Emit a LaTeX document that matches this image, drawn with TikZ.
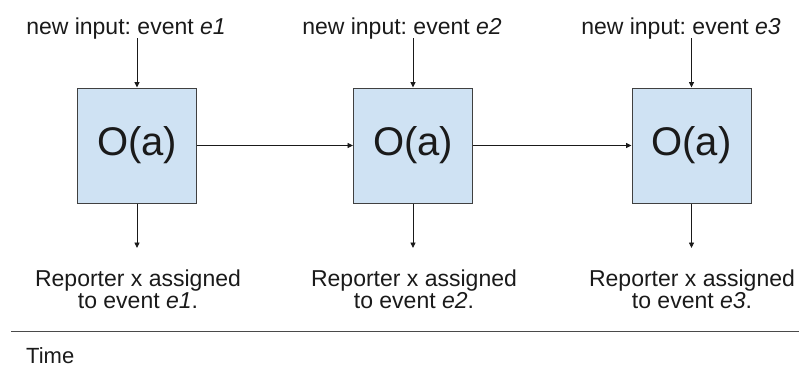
\documentclass[tikz,border=0pt]{standalone}
\usepackage{fontspec}
\setmainfont{Liberation Sans}
\frenchspacing
\usetikzlibrary{arrows.meta}
\definecolor{boxfill}{HTML}{CFE2F3}
\definecolor{boxline}{HTML}{404040}
\definecolor{ink}{HTML}{1A1A1A}
\definecolor{rule}{HTML}{4A4A4A}
\begin{document}
\begin{tikzpicture}[x=1pt,y=-1pt,
  opbox/.style={draw=boxline, fill=boxfill, line width=1pt, minimum width=119pt,
    minimum height=115pt, inner sep=0pt, font=\fontsize{40}{44}\selectfont, text=ink},
  lbl/.style={inner sep=0pt, font=\fontsize{23}{23}\selectfont, text=ink},
  outlbl/.style={lbl, align=center, font=\fontsize{23}{22.5}\selectfont},
  flow/.style={draw=ink, line width=0.9pt, -{Triangle[length=5.5pt,width=5pt]}}]
  \useasboundingbox (0,0) rectangle (799,367);

  % operator boxes
  \node[opbox] (b1) at (137,145.5) {O(a)};
  \node[opbox] (b2) at (413,145.5) {O(a)};
  \node[opbox] (b3) at (691.5,145.5) {O(a)};

  % incoming events
  \node[lbl, anchor=base] (in1) at (126,34) {new input: event \textit{e1}};
  \node[lbl, anchor=base] (in2) at (402,34) {new input: event \textit{e2}};
  \node[lbl, anchor=base] (in3) at (681,34) {new input: event \textit{e3}};
  \coordinate (i1) at (137,38);
  \coordinate (i2) at (413,38);
  \coordinate (i3) at (691.5,38);
  \draw[flow] (i1) -- (b1.north);
  \draw[flow] (i2) -- (b2.north);
  \draw[flow] (i3) -- (b3.north);

  % state passed along
  \draw[flow] (b1.east) -- (b2.west);
  \draw[flow] (b2.east) -- (b3.west);

  % outputs (node base = baseline of the last line)
  \coordinate (o1) at (137,248);
  \coordinate (o2) at (413,248);
  \coordinate (o3) at (691.5,248);
  \draw[flow] (b1.south) -- (o1);
  \draw[flow] (b2.south) -- (o2);
  \draw[flow] (b3.south) -- (o3);
  \node[outlbl, anchor=base] (r1) at (138,308.5) {Reporter x assigned\\to event \textit{e1}.};
  \node[outlbl, anchor=base] (r2) at (414,308.5) {Reporter x assigned\\to event \textit{e2}.};
  \node[outlbl, anchor=base] (r3) at (692,308.5) {Reporter x assigned\\to event \textit{e3}.};

  % time axis
  \coordinate (t0) at (11,331.5);
  \coordinate (t1) at (799,331.5);
  \draw[draw=rule, line width=1.1pt] (t0) -- (t1);
  \node[lbl, anchor=base west, font=\fontsize{22}{22}\selectfont] (time) at (26,363.5) {Time};
\end{tikzpicture}
\end{document}
